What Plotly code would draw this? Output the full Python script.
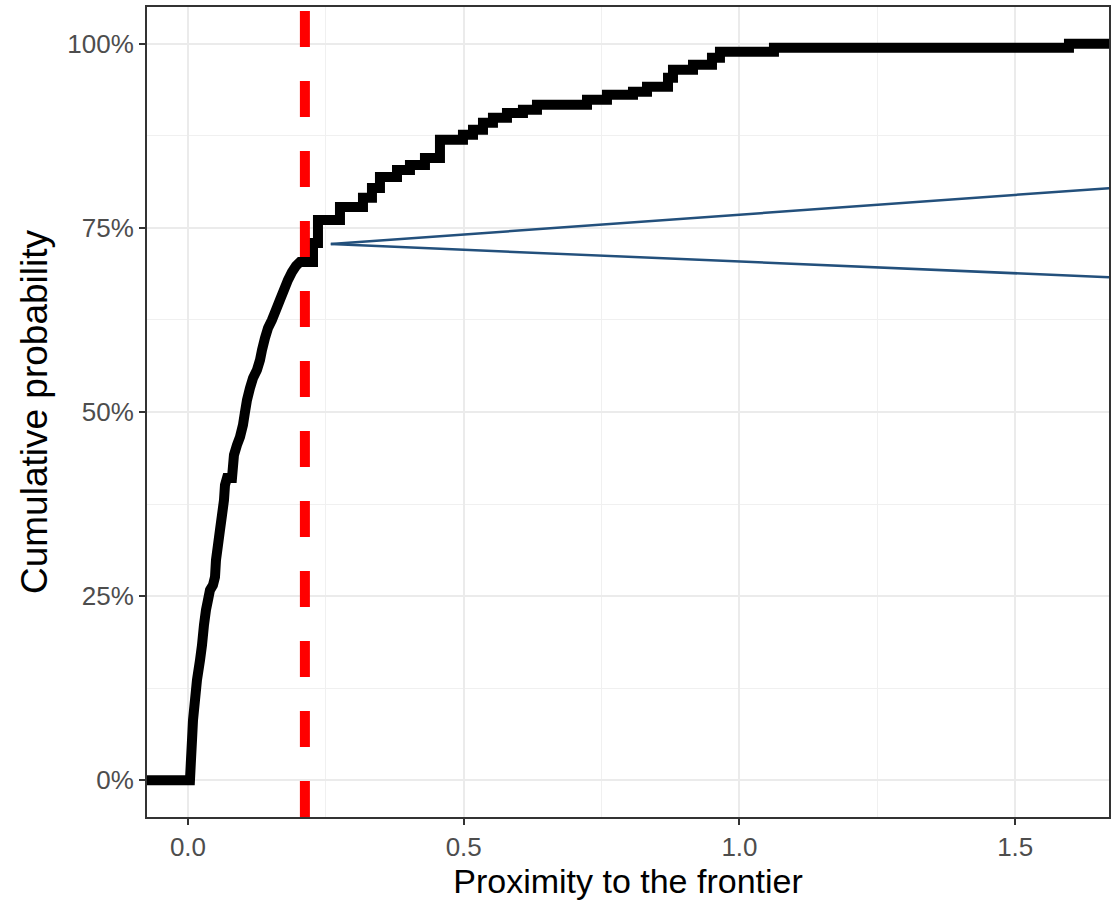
import plotly.graph_objects as go

# ECDF points (x = proximity, y = cumulative probability after the step)
# Steep lower part: dense tiny steps read as a continuous trace
low_x = [-0.2, 0.0036, 0.0054, 0.0073, 0.0091, 0.0127, 0.0163, 0.0218, 0.0254, 0.0290,
         0.0326, 0.0363, 0.0399, 0.0453, 0.0490, 0.0508, 0.0544, 0.0580, 0.0617, 0.0653,
         0.0671, 0.0707, 0.0798, 0.0834, 0.0888, 0.0943, 0.0997, 0.1034, 0.1070, 0.1124,
         0.1179, 0.1251, 0.1306, 0.1342, 0.1396, 0.1451, 0.1523, 0.1596, 0.1668, 0.1741,
         0.1813, 0.1886, 0.1958, 0.2031]
low_y = [0.0, 0.0, 0.0272, 0.0543, 0.0815, 0.1087, 0.1359, 0.1630, 0.1834, 0.2106,
         0.2310, 0.2446, 0.2582, 0.2649, 0.2758, 0.2989, 0.3193, 0.3397, 0.3601, 0.3804,
         0.4008, 0.4103, 0.4103, 0.4416, 0.4552, 0.4660, 0.4823, 0.5000, 0.5163, 0.5326,
         0.5462, 0.5571, 0.5707, 0.5842, 0.6005, 0.6141, 0.6250, 0.6386, 0.6522, 0.6658,
         0.6793, 0.6902, 0.6984, 0.7038]
# Upper part: visible discrete steps (x of step, level after step)
step_x = [0.2267, 0.2357, 0.2756, 0.3173, 0.3336, 0.3481,
          0.3790, 0.4025, 0.4297, 0.4569, 0.4986, 0.5168, 0.5349, 0.5530, 0.5784, 0.6074,
          0.6328, 0.7235, 0.7597, 0.8069, 0.8323, 0.8704, 0.8794, 0.9157, 0.9501, 0.9646,
          1.0625, 1.5974, 1.9]
step_y = [0.7296, 0.7609, 0.7785, 0.7908, 0.8043, 0.8193,
          0.8288, 0.8356, 0.8451, 0.8696, 0.8764, 0.8832, 0.8927, 0.8995, 0.9062, 0.9103,
          0.9171, 0.9239, 0.9307, 0.9348, 0.9416, 0.9538, 0.9647, 0.9715, 0.9810, 0.9891,
          0.9946, 1.0, 1.0]

threshold_x = 0.212

# blue annotation segments: start -> ends
seg_start = (0.259, 0.728)
seg_ends_x = [1.670, 1.670]
seg_ends_y = [0.804, 0.683]

x_tickvals = [0.0, 0.5, 1.0, 1.5]
x_ticktext = ["0.0", "0.5", "1.0", "1.5"]
y_tickvals = [0.0, 0.25, 0.5, 0.75, 1.0]
y_ticktext = ["0%", "25%", "50%", "75%", "100%"]

x_range = [-0.0743, 1.670]
y_range = [-0.05, 1.05]

# build drawn vertices: linear through dense part, hv corners for discrete steps
vx = list(low_x)
vy = list(low_y)
for sx, sy in zip(step_x, step_y):
    vx.append(sx); vy.append(vy[-1])
    vx.append(sx); vy.append(sy)

fig = go.Figure()

fig.add_trace(go.Scatter(
    x=vx, y=vy, mode="lines",
    line=dict(color="black", width=10, shape="linear", simplify=False),
    showlegend=False, hoverinfo="skip"))

for ex, ey in zip(seg_ends_x, seg_ends_y):
    fig.add_trace(go.Scatter(
        x=[seg_start[0], ex], y=[seg_start[1], ey], mode="lines",
        line=dict(color="#23507c", width=2.5),
        showlegend=False, hoverinfo="skip"))

fig.add_shape(type="line", xref="x", yref="paper",
              x0=threshold_x, x1=threshold_x, y0=0, y1=1,
              line=dict(color="#FF0000", width=10, dash="36px,34px"))

font_family = "Liberation Sans, Arial, sans-serif"

fig.update_layout(
    width=1112, height=902,
    margin=dict(l=147, r=3, t=7, b=85, autoexpand=False),
    paper_bgcolor="white", plot_bgcolor="white",
    font=dict(family=font_family, color="black"),
    xaxis=dict(
        range=x_range, tickvals=x_tickvals, ticktext=x_ticktext,
        showgrid=True, gridcolor="#EBEBEB", gridwidth=2.2,
        minor=dict(dtick=0.25, tick0=0, showgrid=True, gridcolor="#F0F0F0", gridwidth=1.1),
        zeroline=False, showline=True, linecolor="#333333", linewidth=2, mirror=True,
        ticks="outside", ticklen=6, tickwidth=2, tickcolor="#333333",
        tickfont=dict(size=26, color="#4D4D4D"),
        title=dict(text="Proximity to the frontier", font=dict(size=34, color="black"), standoff=4),
    ),
    yaxis=dict(
        range=y_range, tickvals=y_tickvals, ticktext=y_ticktext,
        showgrid=True, gridcolor="#EBEBEB", gridwidth=2.2,
        minor=dict(dtick=0.125, tick0=0, showgrid=True, gridcolor="#F0F0F0", gridwidth=1.1),
        zeroline=False, showline=True, linecolor="#333333", linewidth=2, mirror=True,
        ticks="outside", ticklen=6, tickwidth=2, tickcolor="#333333",
        tickfont=dict(size=26, color="#4D4D4D"),
        title=dict(text="Cumulative probability", font=dict(size=37, color="black"), standoff=8),
    ),
)

fig.write_html(
    "out.html",
    config={"displayModeBar": False},
    post_script="document.body.style.margin='0';document.body.style.padding='0';"
                "document.documentElement.style.overflow='hidden';document.body.style.overflow='hidden';",
)
